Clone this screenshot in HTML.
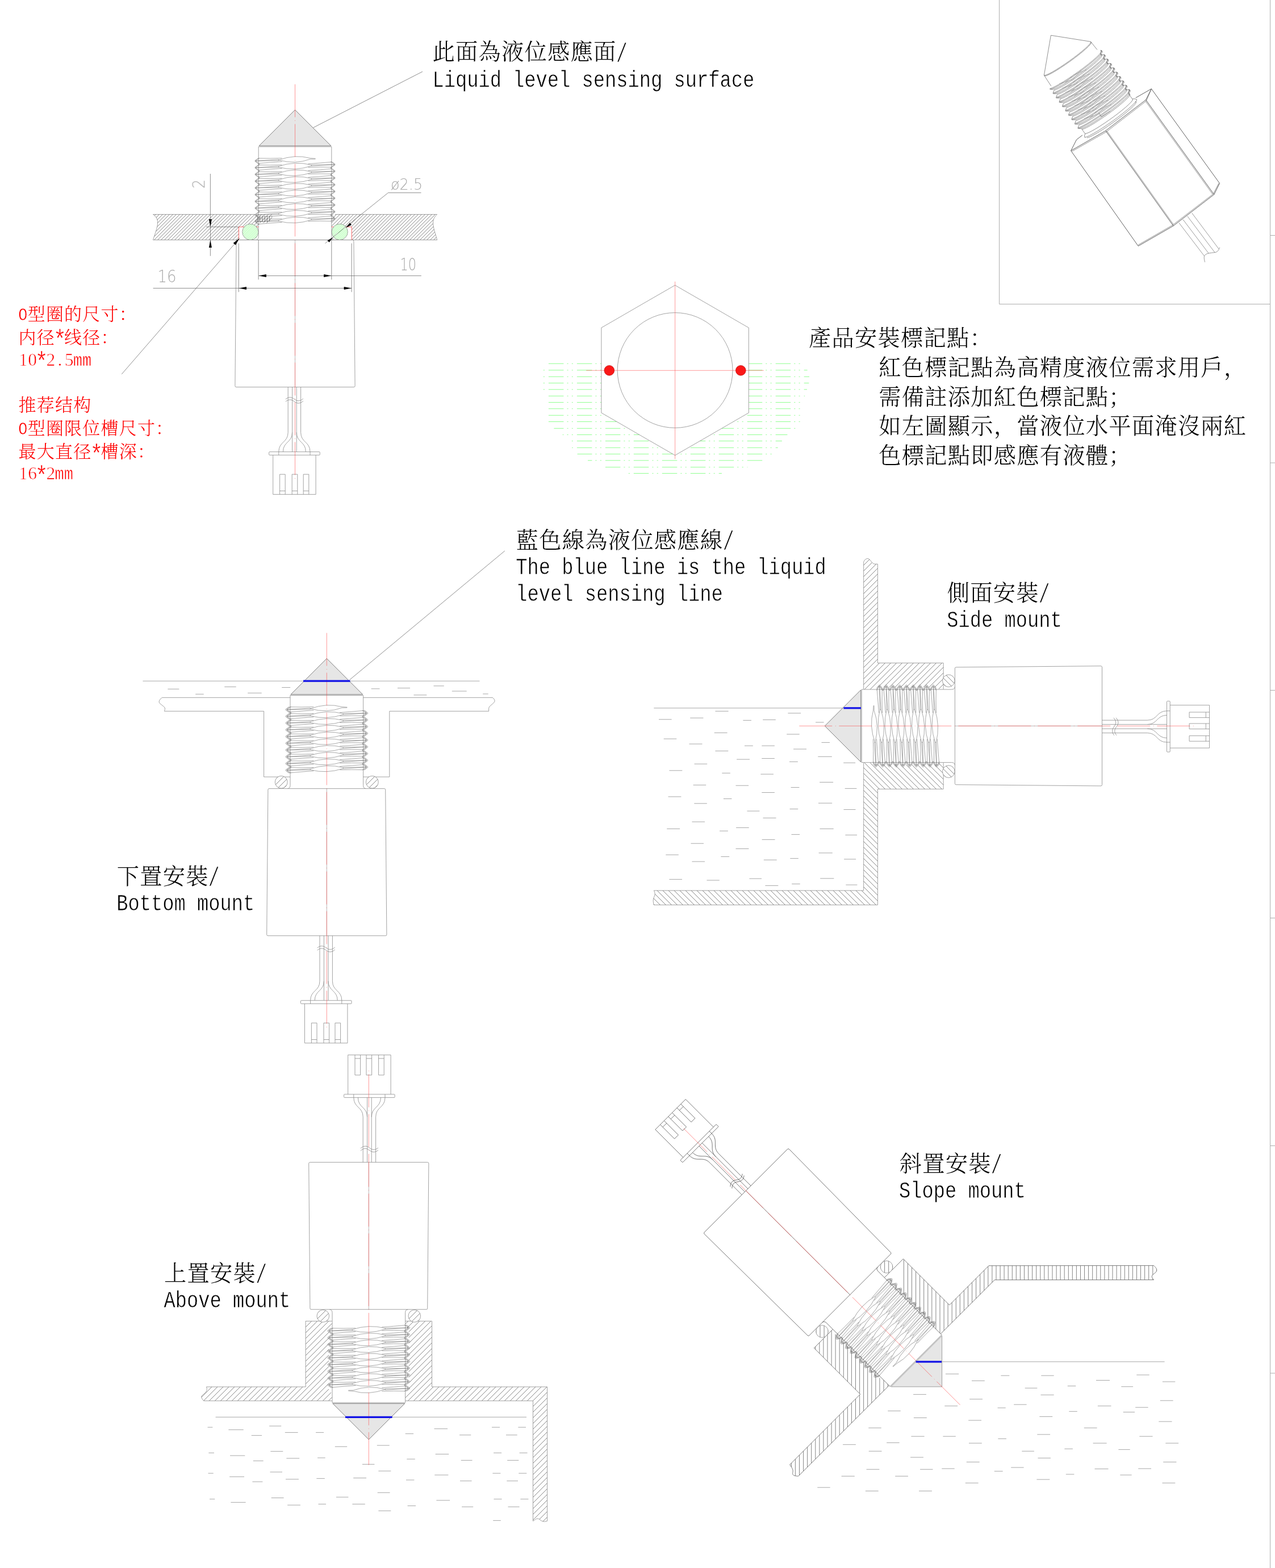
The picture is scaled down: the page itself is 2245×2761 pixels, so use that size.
<!DOCTYPE html>
<html lang="zh-CN"><head><meta charset="utf-8"><title>Liquid level sensor installation</title>
<style>
html,body{margin:0;padding:0;background:#fff}
svg{display:block}
.l{stroke:var(--lc,#8a8a8a);stroke-width:.8;fill:none}
.sm{stroke:var(--sc,#9a9a9a);stroke-width:.7;fill:none}
.k{stroke:var(--kc,#5a5a5a);stroke-width:.75;fill:#e6e6e6}
.t{stroke:var(--tc,#707070);stroke-width:.6;fill:none}
.h{stroke:#505050;stroke-width:.7;fill:none}
.gh{stroke:#58ff58;stroke-width:.75;fill:none}
.dl{stroke:#5e5e5e;stroke-width:.7;fill:none}
.sl{--lc:#5c5c5c;--kc:#8a8a8a;--tc:#6c6c6c;--sc:#4a4a4a}
.r{stroke:#ff4040;stroke-width:.55;fill:none;stroke-dasharray:58 5.5 1 5.5}
.i{stroke:#555;stroke-width:.6;fill:none}
.i2{stroke:#888;stroke-width:.5;fill:none}
.i3{stroke:#3c3c3c;stroke-width:.75;fill:none}
.bl{stroke:#1212e6;stroke-width:3.2;fill:none}
.rc{stroke:#ff4646;stroke-width:.55;fill:none}
.rg{stroke:#ff4040;stroke-width:.8;fill:none}
.w{stroke:#929292;stroke-width:.8;fill:none}
.g{stroke:#74ff74;stroke-width:.8;fill:none}
.b{stroke:#adadad;stroke-width:1;fill:none}
.d{font-family:"DejaVu Sans","Liberation Sans",sans-serif;font-weight:200;fill:#a8a8a8}
.c{font-family:"Liberation Serif","Noto Serif CJK SC",serif;font-weight:300;fill:#000}
.e{font-family:"Liberation Mono",monospace;fill:#000;stroke:#fff;stroke-width:.6;paint-order:fill stroke}
.s2{font-family:"Liberation Serif",serif;font-weight:400;stroke:#fff;stroke-width:.7;paint-order:fill stroke}
.rt{font-family:"Liberation Serif","Noto Serif CJK SC",serif;font-weight:300;fill:#f00}
.rn{font-family:"Liberation Serif",serif;fill:#f00;stroke:#fff;stroke-width:.6;paint-order:fill stroke}
.re{font-family:"Liberation Mono",monospace;fill:#f00;stroke:#fff;stroke-width:.5;paint-order:fill stroke}
</style></head><body>
<svg width="2245" height="2761" viewBox="0 0 2245 2761">
<defs><g id="sensor"><path class="k" d="M0,0L63.4,63.4H-63.4Z"/><path class="l" d="M-64.3,64.9H64.3M-64.3,64.9V84M64.3,64.9V90M-64.3,84V223Q-64.3,229 -69,229M64.3,90V223Q64.3,229 69,229"/><path class="t" d="M-64.3,85L-70.3,89.1L-70.3,90.9L-64.3,95L-64.3,96.8L-70.3,101L-70.3,102.8L-64.3,106.9L-64.3,108.7L-70.3,112.8L-70.3,114.6L-64.3,118.8L-64.3,120.6L-70.3,124.7L-70.3,126.5L-64.3,130.6L-64.3,132.4L-70.3,136.6L-70.3,138.4L-64.3,142.5L-64.3,144.3L-70.3,148.4L-70.3,150.2L-64.3,154.4L-64.3,156.2L-70.3,160.3L-70.3,162.1L-64.3,166.3L-64.3,168.1L-70.3,172.2L-70.3,174L-64.3,178.1L-64.3,179.9L-70.3,184.1L-70.3,185.9L-64.3,190L-64.3,191.8L-70.3,195.9L-70.3,197.7L-64.3,201.9M64.3,91.2L70.3,95.4L70.3,97.2L64.3,101.3L64.3,103.1L70.3,107.2L70.3,109L64.3,113.2L64.3,115L70.3,119.1L70.3,120.9L64.3,125L64.3,126.8L70.3,131L70.3,132.8L64.3,136.9L64.3,138.7L70.3,142.8L70.3,144.7L64.3,148.8L64.3,150.6L70.3,154.7L70.3,156.5L64.3,160.7L64.3,162.5L70.3,166.6L70.3,168.4L64.3,172.5L64.3,174.3L70.3,178.5L70.3,180.3L64.3,184.4L64.3,186.2L70.3,190.3L70.3,192.1L64.3,196.3M-62.8,85L-68.8,89.1L-68.8,90.9L-62.8,95L-62.8,96.8L-68.8,101L-68.8,102.8L-62.8,106.9L-62.8,108.7L-68.8,112.8L-68.8,114.6L-62.8,118.8L-62.8,120.6L-68.8,124.7L-68.8,126.5L-62.8,130.6L-62.8,132.4L-68.8,136.6L-68.8,138.4L-62.8,142.5L-62.8,144.3L-68.8,148.4L-68.8,150.2L-62.8,154.4L-62.8,156.2L-68.8,160.3L-68.8,162.1L-62.8,166.3L-62.8,168.1L-68.8,172.2L-68.8,174L-62.8,178.1L-62.8,179.9L-68.8,184.1L-68.8,185.9L-62.8,190L-62.8,191.8L-68.8,195.9L-68.8,197.7L-62.8,201.9M62.8,91.2L68.8,95.4L68.8,97.2L62.8,101.3L62.8,103.1L68.8,107.2L68.8,109L62.8,113.2L62.8,115L68.8,119.1L68.8,120.9L62.8,125L62.8,126.8L68.8,131L68.8,132.8L62.8,136.9L62.8,138.7L68.8,142.8L68.8,144.7L62.8,148.8L62.8,150.6L68.8,154.7L68.8,156.5L62.8,160.7L62.8,162.5L68.8,166.6L68.8,168.4L62.8,172.5L62.8,174.3L68.8,178.5L68.8,180.3L62.8,184.4L62.8,186.2L68.8,190.3L68.8,192.1L62.8,196.3M-29,88.4 Q0,77.8 27,85.2 L36,85.8M-29,88.4 Q0,96.6 27,86.8 L36,86.6M-69.8,90 L-29,87.4 V89.4 ZM-64.3,85.3 Q-45,85.9 -23,85.1M-64.3,94.3 Q-45,92.7 -23,91.1M-29,99.4 Q0,89.7 29,97.1M-29,101 Q0,108.5 29,98.7M-69.8,101.9 L-29,99.2 V101.2 ZM-64.3,97.1 Q-45,97.7 -23,97M-64.3,106.2 Q-45,104.6 -23,103M69.8,96.3 L29,96.9 V98.9 ZM64.3,91.9 Q45,93.5 23,95.2M64.3,101 Q45,100.4 23,101.2M-29,111.3 Q0,101.5 29,109M-29,112.9 Q0,120.3 29,110.6M-69.8,113.7 L-29,111.1 V113.1 ZM-64.3,109 Q-45,109.6 -23,108.9M-64.3,118.1 Q-45,116.5 -23,114.9M69.8,108.1 L29,108.8 V110.8 ZM64.3,103.8 Q45,105.4 23,107M64.3,112.9 Q45,112.3 23,113M-29,123.2 Q0,113.4 29,120.9M-29,124.8 Q0,132.2 29,122.5M-69.8,125.6 L-29,123 V125 ZM-64.3,120.9 Q-45,121.5 -23,120.7M-64.3,129.9 Q-45,128.3 -23,126.7M69.8,120 L29,120.7 V122.7 ZM64.3,115.7 Q45,117.3 23,118.9M64.3,124.7 Q45,124.1 23,124.9M-29,135 Q0,125.3 29,132.7M-29,136.6 Q0,144.1 29,134.3M-69.8,137.5 L-29,134.8 V136.8 ZM-64.3,132.7 Q-45,133.3 -23,132.6M-64.3,141.8 Q-45,140.2 -23,138.6M69.8,131.9 L29,132.5 V134.5 ZM64.3,127.5 Q45,129.1 23,130.8M64.3,136.6 Q45,136 23,136.8M-29,146.9 Q0,137.1 29,144.6M-29,148.5 Q0,155.9 29,146.2M-69.8,149.3 L-29,146.7 V148.7 ZM-64.3,144.6 Q-45,145.2 -23,144.5M-64.3,153.7 Q-45,152.1 -23,150.5M69.8,143.8 L29,144.4 V146.4 ZM64.3,139.4 Q45,141 23,142.6M64.3,148.5 Q45,147.9 23,148.6M-29,158.8 Q0,149 29,156.5M-29,160.4 Q0,167.8 29,158.1M-69.8,161.2 L-29,158.6 V160.6 ZM-64.3,156.5 Q-45,157.1 -23,156.3M-64.3,165.6 Q-45,164 -23,162.3M69.8,155.6 L29,156.3 V158.3 ZM64.3,151.3 Q45,152.9 23,154.5M64.3,160.4 Q45,159.8 23,160.5M-29,170.6 Q0,160.9 29,168.3M-29,172.2 Q0,179.7 29,169.9M-69.8,173.1 L-29,170.4 V172.4 ZM-64.3,168.4 Q-45,169 -23,168.2M-64.3,177.4 Q-45,175.8 -23,174.2M69.8,167.5 L29,168.1 V170.1 ZM64.3,163.2 Q45,164.8 23,166.4M64.3,172.2 Q45,171.6 23,172.4M-29,182.5 Q0,172.8 29,180.2M-29,184.1 Q0,191.6 29,181.8M-69.8,185 L-29,182.3 V184.3 ZM-64.3,180.2 Q-45,180.8 -23,180.1M-64.3,189.3 Q-45,187.7 -23,186.1M69.8,179.4 L29,180 V182 ZM64.3,175 Q45,176.6 23,178.2M64.3,184.1 Q45,183.5 23,184.2M-29,194.4 Q0,184.6 29,192.1M-29,196 Q0,203.4 29,193.7M-69.8,196.8 L-29,194.2 V196.2 ZM-64.3,192.1 Q-45,192.7 -23,191.9M-64.3,201.2 Q-45,199.6 -23,197.9M69.8,191.2 L29,191.9 V193.9 ZM64.3,186.9 Q45,188.5 23,190.1M64.3,196 Q45,195.4 23,196.1"/><path class="l" d="M-103.4,231.2Q-103.4,229.1 -101.4,229.1H101.4Q103.4,229.1 103.4,231.2L105.6,486Q105.6,488.2 103.4,488.2H-103.4Q-105.6,488.2 -105.6,486Z"/><path class="sm" d="M0,229.1V488.2"/><path class="l" d="M-12.3,488.2V568C-12.3,586 -28.7,584 -28.7,602.2M-4.9,488.2V602.2M-4.9,568C-4.9,586 -21.1,584 -21.1,602.2M2.7,488.2V602.2M2.7,568C2.7,586 18.9,584 18.9,602.2M10.1,488.2V568C10.1,586 26.5,584 26.5,602.2"/><path class="l" d="M-16.6,509.5C-11.1,505 -6.1,505.5 -1.1,509.5S8.9,513.5 14.4,508.5"/><path class="l" d="M-16.6,513.7C-11.1,509.2 -6.1,509.7 -1.1,513.7S8.9,517.7 14.4,512.7"/><rect class="l" x="-45.8" y="602.2" width="89.5" height="5.7" rx="1"/><path class="l" d="M-28.7,602.2V607.9M26.5,602.2V607.9"/><path class="l" d="M-38.8,607.9V677.2H36.6V607.9"/><path class="l" d="M-26.9,677.2V641.8H-17.3V677.2M-26.9,671H-17.3"/><path class="l" d="M-5.3,677.2V641.8H4.3V677.2M-5.3,671H4.3"/><path class="l" d="M14.7,677.2V641.8H24.3V677.2M14.7,671H24.3"/><path class="r" d="M0,-45V653.5"/></g>
<path id="thr2" class="t" stroke-width=".5" d="M-66,84.7L-72.2,89.3L-72.2,90.7L-66,95.3L-66,96.5L-72.2,101.2L-72.2,102.6L-66,107.2L-66,108.4L-72.2,113L-72.2,114.4L-66,119.1L-66,120.3L-72.2,124.9L-72.2,126.3L-66,130.9L-66,132.1L-72.2,136.8L-72.2,138.2L-66,142.8L-66,144L-72.2,148.7L-72.2,150L-66,154.7L-66,155.9L-72.2,160.5L-72.2,161.9L-66,166.6L-66,167.8L-72.2,172.4L-72.2,173.8L-66,178.4L-66,179.6L-72.2,184.3L-72.2,185.7L-66,190.3L-66,191.5L-72.2,196.1L-72.2,197.5L-66,202.2M66,90.9L72.2,95.6L72.2,97L66,101.6L66,102.8L72.2,107.4L72.2,108.8L66,113.5L66,114.7L72.2,119.3L72.2,120.7L66,125.3L66,126.5L72.2,131.2L72.2,132.6L66,137.2L66,138.4L72.2,143.1L72.2,144.4L66,149.1L66,150.3L72.2,154.9L72.2,156.3L66,161L66,162.2L72.2,166.8L72.2,168.2L66,172.8L66,174L72.2,178.7L72.2,180.1L66,184.7L66,185.9L72.2,190.5L72.2,191.9L66,196.6"/>
<clipPath id="c1"><path d="M269.5,377.5 H455.3 V399.6 H420.5 V422.5 H269.5 C274,408 279.5,396 277,387 C275.5,382 272,379.5 269.5,377.5 Z" clip-rule="evenodd"/></clipPath>
<clipPath id="c2"><path d="M583.7,377.5 H769.6 C767,380 763,384 762.5,391 C762,400 767,412 769.6,422.5 H619.3 V399.6 H583.7 Z" clip-rule="evenodd"/></clipPath>
<clipPath id="c3"><path d="M449,377.5H482L474,392.5H449Z" clip-rule="evenodd"/></clipPath>
<clipPath id="c4"><path d="M452,380H480L474,391H452Z" clip-rule="evenodd"/></clipPath>
<clipPath id="c5"><path d="M426.7,408.4a14.1,14.1 0 1,0 28.2,0a14.1,14.1 0 1,0 -28.2,0Z" clip-rule="evenodd"/></clipPath>
<clipPath id="c6"><path d="M584.1,408.4a14.1,14.1 0 1,0 28.2,0a14.1,14.1 0 1,0 -28.2,0Z" clip-rule="evenodd"/></clipPath>
<clipPath id="c7"><path d="M484.3,1377.2a10.9,10.9 0 1,0 21.8,0a10.9,10.9 0 1,0 -21.8,0Z" clip-rule="evenodd"/></clipPath>
<clipPath id="c8"><path d="M644.4,1377.2a10.9,10.9 0 1,0 21.8,0a10.9,10.9 0 1,0 -21.8,0Z" clip-rule="evenodd"/></clipPath>
<clipPath id="c9"><path d="M1520.7,989.7C1521.5,986.5 1524.5,983.6 1527.7,983.5C1532.5,983.6 1535,993 1540.1,993.2H1545.4V1167.4H1661.1V1213.7H1652.9V1210H1536.8V1213.7H1520.7Z" clip-rule="evenodd"/></clipPath>
<clipPath id="c10"><path d="M1520.7,1343.2H1536.8V1346.6H1652.9V1343.2H1661.1V1389.4H1545.4V1593.4H1151.3C1150.3,1589 1149.6,1586 1150.8,1582C1152,1578 1153.5,1576 1153.2,1573C1153,1571 1152,1569.5 1151.3,1568.1H1520.7Z" clip-rule="evenodd"/></clipPath>
<clipPath id="c11"><path d="M1659.5,1198.8a10.8,10.8 0 1,0 21.6,0a10.8,10.8 0 1,0 -21.6,0Z" clip-rule="evenodd"/></clipPath>
<clipPath id="c12"><path d="M1659.5,1358.6a10.8,10.8 0 1,0 21.6,0a10.8,10.8 0 1,0 -21.6,0Z" clip-rule="evenodd"/></clipPath>
<clipPath id="c13"><path d="M363.5,2442C364.6,2445 365,2447.5 362.5,2451C359.5,2455 354.3,2457 354.7,2460C355.2,2463 357.5,2465 358.6,2466.7H584.6V2452H579V2338H584.6V2326.3H538.2V2442Z" clip-rule="evenodd"/></clipPath>
<clipPath id="c14"><path d="M714,2326.3H760.5V2442H963.5V2678.3C960,2679.5 957,2679.5 954.5,2678.5C951,2676.8 949.5,2674 946.5,2674C943.5,2674 941.5,2676.8 938.5,2678.3V2466.7H714V2452H719.6V2338H714Z" clip-rule="evenodd"/></clipPath>
<clipPath id="c15"><path d="M558,2317.3a10.8,10.8 0 1,0 21.6,0a10.8,10.8 0 1,0 -21.6,0Z" clip-rule="evenodd"/></clipPath>
<clipPath id="c16"><path d="M719,2317.3a10.8,10.8 0 1,0 21.6,0a10.8,10.8 0 1,0 -21.6,0Z" clip-rule="evenodd"/></clipPath>
<clipPath id="c17"><path d="M1559.5,2247.6L1590.4,2216.7L1671.7,2298L1741,2228.7L2031.4,2228.4C2034.5,2231 2037,2234 2036.7,2237C2036.4,2241.5 2028.5,2243.5 2028.3,2247.5C2028.2,2250 2030,2252 2031.6,2253.6L1751.3,2253.7L1656.3,2348.7L1644.7,2337L1642.5,2330.7Z" clip-rule="evenodd"/></clipPath>
<clipPath id="c18"><path d="M1464.3,2342.8L1433.4,2373.7L1514.7,2455L1390.6,2579.1C1393.6,2583.1 1396.6,2587.1 1396.1,2591.1C1395.6,2595.1 1393.6,2599.1 1405.8,2599.2L1565.4,2439.6L1553.7,2428L1547.4,2425.8Z" clip-rule="evenodd"/></clipPath>
<clipPath id="c19"><path d="M1550.3,2230.8a10.8,10.8 0 1,0 21.6,0a10.8,10.8 0 1,0 -21.6,0Z" clip-rule="evenodd"/></clipPath>
<clipPath id="c20"><path d="M1436.7,2344.4a10.8,10.8 0 1,0 21.6,0a10.8,10.8 0 1,0 -21.6,0Z" clip-rule="evenodd"/></clipPath></defs>
<g id="view-dimension">
<g clip-path="url(#c1)"><path class="h" d="M238.6,401.4L363.9,276.1M241.6,404.4L366.9,279.1M244.6,407.4L369.9,282.1M247.6,410.4L372.9,285.1M250.6,413.4L375.9,288.1M253.6,416.4L378.9,291.1M256.6,419.4L381.9,294.1M259.6,422.4L384.9,297.1M262.6,425.4L387.9,300.1M265.6,428.4L390.9,303.1M268.6,431.4L393.9,306.1M271.6,434.4L396.9,309.1M274.6,437.4L399.9,312.1M277.6,440.4L402.9,315.1M280.6,443.4L405.9,318.1M283.6,446.4L408.9,321.1M286.6,449.4L411.9,324.1M289.6,452.4L414.9,327.1M292.6,455.4L417.9,330.1M295.6,458.4L420.9,333.1M298.6,461.4L423.9,336.1M301.6,464.4L426.9,339.1M304.6,467.4L429.9,342.1M307.6,470.4L432.9,345.1M310.6,473.4L435.9,348.1M313.6,476.4L438.9,351.1M316.6,479.4L441.9,354.1M319.6,482.4L444.9,357.1M322.6,485.4L447.9,360.1M325.6,488.4L450.9,363.1M328.6,491.4L453.9,366.1M331.6,494.4L456.9,369.1M334.6,497.4L459.9,372.1M337.6,500.4L462.9,375.1M340.6,503.4L465.9,378.1M343.6,506.4L468.9,381.1M346.6,509.4L471.9,384.1M349.6,512.4L474.9,387.1M352.6,515.4L477.9,390.1M355.6,518.4L480.9,393.1M358.6,521.4L483.9,396.1"/></g>
<g clip-path="url(#c2)"><path class="h" d="M555.1,402.9L678.9,279.1M558.1,405.9L681.9,282.1M561.1,408.9L684.9,285.1M564.1,411.9L687.9,288.1M567.1,414.9L690.9,291.1M570.1,417.9L693.9,294.1M573.1,420.9L696.9,297.1M576.1,423.9L699.9,300.1M579.1,426.9L702.9,303.1M582.1,429.9L705.9,306.1M585.1,432.9L708.9,309.1M588.1,435.9L711.9,312.1M591.1,438.9L714.9,315.1M594.1,441.9L717.9,318.1M597.1,444.9L720.9,321.1M600.1,447.9L723.9,324.1M603.1,450.9L726.9,327.1M606.1,453.9L729.9,330.1M609.1,456.9L732.9,333.1M612.1,459.9L735.9,336.1M615.1,462.9L738.9,339.1M618.1,465.9L741.9,342.1M621.1,468.9L744.9,345.1M624.1,471.9L747.9,348.1M627.1,474.9L750.9,351.1M630.1,477.9L753.9,354.1M633.1,480.9L756.9,357.1M636.1,483.9L759.9,360.1M639.1,486.9L762.9,363.1M642.1,489.9L765.9,366.1M645.1,492.9L768.9,369.1M648.1,495.9L771.9,372.1M651.1,498.9L774.9,375.1M654.1,501.9L777.9,378.1M657.1,504.9L780.9,381.1M660.1,507.9L783.9,384.1M663.1,510.9L786.9,387.1M666.1,513.9L789.9,390.1M669.1,516.9L792.9,393.1M672.1,519.9L795.9,396.1"/></g>
<g clip-path="url(#c3)"><path class="h" d="M433.6,386.4L466.4,353.6M436.6,389.4L469.4,356.6M439.6,392.4L472.4,359.6M442.6,395.4L475.4,362.6M445.6,398.4L478.4,365.6M448.6,401.4L481.4,368.6M451.6,404.4L484.4,371.6M454.6,407.4L487.4,374.6M457.6,410.4L490.4,377.6M460.6,413.4L493.4,380.6"/></g>
<g clip-path="url(#c4)"><path class="h" d="M445.2,397L445.2,373M449.4,397L449.4,373M453.6,397L453.6,373M457.8,397L457.8,373M462,397L462,373M466.2,397L466.2,373M470.4,397L470.4,373M474.6,397L474.6,373M478.8,397L478.8,373M483,397L483,373"/></g>
<path class="l" d="M269.5,377.5 H449.2 M589.8,377.5 H769.6 M269.5,422.5 H769.6"/>
<path class="l" d="M269.5,377.5 C272,379.5 275.5,382 277,387 C279.5,396 274,408 269.5,422.5 M769.6,377.5 C767,380 763,384 762.5,391 C762,400 767,412 769.6,422.5"/>
<use href="#sensor" transform="translate(519.5,193.4)"/>
<path class="rg" d="M420.5,422.5 V399.6 H455.2 M583.8,399.6 H619.3 V422.5"/>
<circle cx="440.8" cy="408.4" r="14.1" fill="#fff"/>
<g clip-path="url(#c5)"><path class="gh" d="M410.2,411.2L443.5,377.9M411.7,412.8L445.1,379.4M413.3,414.3L446.6,381M414.8,415.9L448.2,382.5M416.4,417.4L449.7,384.1M418,419L451.3,385.7M419.5,420.5L452.8,387.2M421.1,422.1L454.4,388.8M422.6,423.6L455.9,390.3M424.2,425.2L457.5,391.9M425.7,426.8L459.1,393.4M427.3,428.3L460.6,395M428.8,429.9L462.2,396.5M430.4,431.4L463.7,398.1M432,433L465.3,399.7M433.5,434.5L466.8,401.2M435.1,436.1L468.4,402.8M436.6,437.6L469.9,404.3M438.2,439.2L471.5,405.9"/></g>
<circle class="l" cx="440.8" cy="408.4" r="14.1"/>
<circle cx="598.2" cy="408.4" r="14.1" fill="#fff"/>
<g clip-path="url(#c6)"><path class="gh" d="M566.7,410.3L600,377M568.2,411.8L601.5,378.5M569.8,413.4L603.1,380.1M571.3,415L604.7,381.6M572.9,416.5L606.2,383.2M574.4,418.1L607.8,384.7M576,419.6L609.3,386.3M577.5,421.2L610.9,387.8M579.1,422.7L612.4,389.4M580.7,424.3L614,391M582.2,425.8L615.5,392.5M583.8,427.4L617.1,394.1M585.3,429L618.7,395.6M586.9,430.5L620.2,397.2M588.4,432.1L621.8,398.7M590,433.6L623.3,400.3M591.5,435.2L624.9,401.8M593.1,436.7L626.4,403.4M594.7,438.3L628,405M596.2,439.8L629.5,406.5"/></g>
<circle class="l" cx="598.2" cy="408.4" r="14.1"/>
<path class="dl" d="M370.4,306V450.7M363,399.6H420"/>
<polygon fill="#000" points="370.4,399.6 367.9,386.1 372.9,386.1"/><polygon fill="#000" points="370.4,422.5 372.9,436 367.9,436"/>

<path class="dl" d="M269.6,507.5H619.1M420.3,428.5V514.2M619.1,428.5V514.2"/>
<polygon fill="#000" points="420.5,507.5 434,505 434,510"/><polygon fill="#000" points="619.1,507.5 605.6,510 605.6,505"/>

<path class="dl" d="M455.4,485.6H741.8M455.1,423V492.3M583.8,423V492.3"/>
<polygon fill="#000" points="455.4,485.6 468.9,483.1 468.9,488.1"/><polygon fill="#000" points="583.6,485.6 570.1,488.1 570.1,483.1"/>

<path class="dl" d="M572.6,428.5L683.5,339.4H741.5"/>
<polygon fill="#000" points="586.6,418.1 579.5,426.8 576.6,423.2"/>
<polygon fill="#000" points="609,401 616.1,392.3 619,395.9"/>

<path class="dl" d="M214.3,658.8L421.6,419.6"/>
<polygon fill="#000" points="421.6,419.6 414.8,431.6 410.7,428"/>
<path class="dl" d="M551.5,224.8L744,126"/>
</g>
<g id="view-marks">
<path class="g" d="M965.9,640.3H992.4M998.5,640.3H1000.5M1006.8,640.3H1008.8M1015.9,640.3H1042.4M1048.4,640.3H1050.5M1056.8,640.3H1058.8M1065.9,640.3H1092.4M1098.4,640.3H1100.4M1106.8,640.3H1108.8M1115.8,640.3H1142.3M1148.4,640.3H1150.4M1156.7,640.3H1158.8M1165.8,640.3H1192.3M1198.4,640.3H1200.4M1206.7,640.3H1208.7M1215.8,640.3H1242.3M1248.3,640.3H1250.3M1256.7,640.3H1258.7M1265.7,640.3H1292.2M1298.3,640.3H1300.3M1306.6,640.3H1308.7M1315.7,640.3H1342.2M1348.3,640.3H1350.3M1356.6,640.3H1358.6M1365.7,640.3H1392.2M1398.2,640.3H1400.3M1406.6,640.3H1408.6M956.8,651.8H958.9M965.9,651.8H992.4M998.5,651.8H1000.5M1006.8,651.8H1008.8M1015.9,651.8H1042.4M1048.4,651.8H1050.5M1056.8,651.8H1058.8M1065.9,651.8H1092.4M1098.4,651.8H1100.4M1106.8,651.8H1108.8M1115.8,651.8H1142.3M1148.4,651.8H1150.4M1156.7,651.8H1158.8M1165.8,651.8H1192.3M1198.4,651.8H1200.4M1206.7,651.8H1208.7M1215.8,651.8H1242.3M1248.3,651.8H1250.3M1256.7,651.8H1258.7M1265.7,651.8H1292.2M1298.3,651.8H1300.3M1306.6,651.8H1308.7M1315.7,651.8H1342.2M1348.3,651.8H1350.3M1356.6,651.8H1358.6M1365.7,651.8H1392.2M1398.2,651.8H1400.3M1406.6,651.8H1408.6M1415.7,651.8H1421.6M956.8,663.3H958.9M965.9,663.3H992.4M998.5,663.3H1000.5M1006.8,663.3H1008.8M1015.9,663.3H1042.4M1048.4,663.3H1050.5M1056.8,663.3H1058.8M1065.9,663.3H1092.4M1098.4,663.3H1100.4M1106.8,663.3H1108.8M1115.8,663.3H1142.3M1148.4,663.3H1150.4M1156.7,663.3H1158.8M1165.8,663.3H1192.3M1198.4,663.3H1200.4M1206.7,663.3H1208.7M1215.8,663.3H1242.3M1248.3,663.3H1250.3M1256.7,663.3H1258.7M1265.7,663.3H1292.2M1298.3,663.3H1300.3M1306.6,663.3H1308.7M1315.7,663.3H1342.2M1348.3,663.3H1350.3M1356.6,663.3H1358.6M1365.7,663.3H1392.2M1398.2,663.3H1400.3M1406.6,663.3H1408.6M1415.7,663.3H1425M956.8,674.5H958.9M965.9,674.5H992.4M998.5,674.5H1000.5M1006.8,674.5H1008.8M1015.9,674.5H1042.4M1048.4,674.5H1050.5M1056.8,674.5H1058.8M1065.9,674.5H1092.4M1098.4,674.5H1100.4M1106.8,674.5H1108.8M1115.8,674.5H1142.3M1148.4,674.5H1150.4M1156.7,674.5H1158.8M1165.8,674.5H1192.3M1198.4,674.5H1200.4M1206.7,674.5H1208.7M1215.8,674.5H1242.3M1248.3,674.5H1250.3M1256.7,674.5H1258.7M1265.7,674.5H1292.2M1298.3,674.5H1300.3M1306.6,674.5H1308.7M1315.7,674.5H1342.2M1348.3,674.5H1350.3M1356.6,674.5H1358.6M1365.7,674.5H1392.2M1398.2,674.5H1400.3M1406.6,674.5H1408.6M1415.7,674.5H1424.4M956.8,685.8H958.9M965.9,685.8H992.4M998.5,685.8H1000.5M1006.8,685.8H1008.8M1015.9,685.8H1042.4M1048.4,685.8H1050.5M1056.8,685.8H1058.8M1065.9,685.8H1092.4M1098.4,685.8H1100.4M1106.8,685.8H1108.8M1115.8,685.8H1142.3M1148.4,685.8H1150.4M1156.7,685.8H1158.8M1165.8,685.8H1192.3M1198.4,685.8H1200.4M1206.7,685.8H1208.7M1215.8,685.8H1242.3M1248.3,685.8H1250.3M1256.7,685.8H1258.7M1265.7,685.8H1292.2M1298.3,685.8H1300.3M1306.6,685.8H1308.7M1315.7,685.8H1342.2M1348.3,685.8H1350.3M1356.6,685.8H1358.6M1365.7,685.8H1392.2M1398.2,685.8H1400.3M1406.6,685.8H1408.6M1415.7,685.8H1421M965.9,697.3H992.4M998.5,697.3H1000.5M1006.8,697.3H1008.8M1015.9,697.3H1042.4M1048.4,697.3H1050.5M1056.8,697.3H1058.8M1065.9,697.3H1092.4M1098.4,697.3H1100.4M1106.8,697.3H1108.8M1115.8,697.3H1142.3M1148.4,697.3H1150.4M1156.7,697.3H1158.8M1165.8,697.3H1192.3M1198.4,697.3H1200.4M1206.7,697.3H1208.7M1215.8,697.3H1242.3M1248.3,697.3H1250.3M1256.7,697.3H1258.7M1265.7,697.3H1292.2M1298.3,697.3H1300.3M1306.6,697.3H1308.7M1315.7,697.3H1342.2M1348.3,697.3H1350.3M1356.6,697.3H1358.6M1365.7,697.3H1392.2M1398.2,697.3H1400.3M1406.6,697.3H1408.6M1415.7,697.3H1417.2M965.9,708.5H992.4M998.5,708.5H1000.5M1006.8,708.5H1008.8M1015.9,708.5H1042.4M1048.4,708.5H1050.5M1056.8,708.5H1058.8M1065.9,708.5H1092.4M1098.4,708.5H1100.4M1106.8,708.5H1108.8M1115.8,708.5H1142.3M1148.4,708.5H1150.4M1156.7,708.5H1158.8M1165.8,708.5H1192.3M1198.4,708.5H1200.4M1206.7,708.5H1208.7M1215.8,708.5H1242.3M1248.3,708.5H1250.3M1256.7,708.5H1258.7M1265.7,708.5H1292.2M1298.3,708.5H1300.3M1306.6,708.5H1308.7M1315.7,708.5H1342.2M1348.3,708.5H1350.3M1356.6,708.5H1358.6M1365.7,708.5H1392.2M1398.2,708.5H1400.3M1406.6,708.5H1408.6M965.9,719.7H992.4M998.5,719.7H1000.5M1006.8,719.7H1008.8M1015.9,719.7H1042.4M1048.4,719.7H1050.5M1056.8,719.7H1058.8M1065.9,719.7H1092.4M1098.4,719.7H1100.4M1106.8,719.7H1108.8M1115.8,719.7H1142.3M1148.4,719.7H1150.4M1156.7,719.7H1158.8M1165.8,719.7H1192.3M1198.4,719.7H1200.4M1206.7,719.7H1208.7M1215.8,719.7H1242.3M1248.3,719.7H1250.3M1256.7,719.7H1258.7M1265.7,719.7H1292.2M1298.3,719.7H1300.3M1306.6,719.7H1308.7M1315.7,719.7H1342.2M1348.3,719.7H1350.3M1356.6,719.7H1358.6M1365.7,719.7H1392.2M1398.2,719.7H1400.3M1406.6,719.7H1408.6M965.9,731.3H992.4M998.5,731.3H1000.5M1006.8,731.3H1008.8M1015.9,731.3H1042.4M1048.4,731.3H1050.5M1056.8,731.3H1058.8M1065.9,731.3H1092.4M1098.4,731.3H1100.4M1106.8,731.3H1108.8M1115.8,731.3H1142.3M1148.4,731.3H1150.4M1156.7,731.3H1158.8M1165.8,731.3H1192.3M1198.4,731.3H1200.4M1206.7,731.3H1208.7M1215.8,731.3H1242.3M1248.3,731.3H1250.3M1256.7,731.3H1258.7M1265.7,731.3H1292.2M1298.3,731.3H1300.3M1306.6,731.3H1308.7M1315.7,731.3H1342.2M1348.3,731.3H1350.3M1356.6,731.3H1358.6M1365.7,731.3H1392.2M1398.2,731.3H1400.3M1406.6,731.3H1408.6M965.9,742.5H992.4M998.5,742.5H1000.5M1006.8,742.5H1008.8M1015.9,742.5H1042.4M1048.4,742.5H1050.5M1056.8,742.5H1058.8M1065.9,742.5H1092.4M1098.4,742.5H1100.4M1106.8,742.5H1108.8M1115.8,742.5H1142.3M1148.4,742.5H1150.4M1156.7,742.5H1158.8M1165.8,742.5H1192.3M1198.4,742.5H1200.4M1206.7,742.5H1208.7M1215.8,742.5H1242.3M1248.3,742.5H1250.3M1256.7,742.5H1258.7M1265.7,742.5H1292.2M1298.3,742.5H1300.3M1306.6,742.5H1308.7M1315.7,742.5H1342.2M1348.3,742.5H1350.3M1356.6,742.5H1358.6M1365.7,742.5H1392.2M1398.2,742.5H1400.3M1406.6,742.5H1408.6M975.4,754.3H992.4M998.5,754.3H1000.5M1006.8,754.3H1008.8M1015.9,754.3H1042.4M1048.4,754.3H1050.5M1056.8,754.3H1058.8M1065.9,754.3H1092.4M1098.4,754.3H1100.4M1106.8,754.3H1108.8M1115.8,754.3H1142.3M1148.4,754.3H1150.4M1156.7,754.3H1158.8M1165.8,754.3H1192.3M1198.4,754.3H1200.4M1206.7,754.3H1208.7M1215.8,754.3H1242.3M1248.3,754.3H1250.3M1256.7,754.3H1258.7M1265.7,754.3H1292.2M1298.3,754.3H1300.3M1306.6,754.3H1308.7M1315.7,754.3H1342.2M1348.3,754.3H1350.3M1356.6,754.3H1358.6M1365.7,754.3H1392.2M1398.2,754.3H1400.3M990.7,765.5H992.4M998.5,765.5H1000.5M1006.8,765.5H1008.8M1015.9,765.5H1042.4M1048.4,765.5H1050.5M1056.8,765.5H1058.8M1065.9,765.5H1092.4M1098.4,765.5H1100.4M1106.8,765.5H1108.8M1115.8,765.5H1142.3M1148.4,765.5H1150.4M1156.7,765.5H1158.8M1165.8,765.5H1192.3M1198.4,765.5H1200.4M1206.7,765.5H1208.7M1215.8,765.5H1242.3M1248.3,765.5H1250.3M1256.7,765.5H1258.7M1265.7,765.5H1292.2M1298.3,765.5H1300.3M1306.6,765.5H1308.7M1315.7,765.5H1342.2M1348.3,765.5H1350.3M1356.6,765.5H1358.6M1365.7,765.5H1386.4M1006.8,776.5H1008.8M1015.9,776.5H1042.4M1048.4,776.5H1050.5M1056.8,776.5H1058.8M1065.9,776.5H1092.4M1098.4,776.5H1100.4M1106.8,776.5H1108.8M1115.8,776.5H1142.3M1148.4,776.5H1150.4M1156.7,776.5H1158.8M1165.8,776.5H1192.3M1198.4,776.5H1200.4M1206.7,776.5H1208.7M1215.8,776.5H1242.3M1248.3,776.5H1250.3M1256.7,776.5H1258.7M1265.7,776.5H1292.2M1298.3,776.5H1300.3M1306.6,776.5H1308.7M1315.7,776.5H1342.2M1348.3,776.5H1350.3M1356.6,776.5H1358.6M1365.7,776.5H1376.9M1007.1,788.3H1008.8M1015.9,788.3H1042.4M1048.4,788.3H1050.5M1056.8,788.3H1058.8M1065.9,788.3H1092.4M1098.4,788.3H1100.4M1106.8,788.3H1108.8M1115.8,788.3H1142.3M1148.4,788.3H1150.4M1156.7,788.3H1158.8M1165.8,788.3H1192.3M1198.4,788.3H1200.4M1206.7,788.3H1208.7M1215.8,788.3H1242.3M1248.3,788.3H1250.3M1256.7,788.3H1258.7M1265.7,788.3H1292.2M1298.3,788.3H1300.3M1306.6,788.3H1308.7M1315.7,788.3H1342.2M1348.3,788.3H1350.3M1356.6,788.3H1358.6M1365.7,788.3H1369.7M1016.6,799.5H1042.4M1048.4,799.5H1050.5M1056.8,799.5H1058.8M1065.9,799.5H1092.4M1098.4,799.5H1100.4M1106.8,799.5H1108.8M1115.8,799.5H1142.3M1148.4,799.5H1150.4M1156.7,799.5H1158.8M1165.8,799.5H1192.3M1198.4,799.5H1200.4M1206.7,799.5H1208.7M1215.8,799.5H1242.3M1248.3,799.5H1250.3M1256.7,799.5H1258.7M1265.7,799.5H1292.2M1298.3,799.5H1300.3M1306.6,799.5H1308.7M1315.7,799.5H1342.2M1348.3,799.5H1350.3M1356.6,799.5H1358.6M1035,810.8H1042.4M1048.4,810.8H1050.5M1056.8,810.8H1058.8M1065.9,810.8H1092.4M1098.4,810.8H1100.4M1106.8,810.8H1108.8M1115.8,810.8H1142.3M1148.4,810.8H1150.4M1156.7,810.8H1158.8M1165.8,810.8H1192.3M1198.4,810.8H1200.4M1206.7,810.8H1208.7M1215.8,810.8H1242.3M1248.3,810.8H1250.3M1256.7,810.8H1258.7M1265.7,810.8H1292.2M1298.3,810.8H1300.3M1306.6,810.8H1308.7M1315.7,810.8H1342.2M1065.9,822.6H1092.4M1098.4,822.6H1100.4M1106.8,822.6H1108.8M1115.8,822.6H1142.3M1148.4,822.6H1150.4M1156.7,822.6H1158.8M1165.8,822.6H1192.3M1198.4,822.6H1200.4M1206.7,822.6H1208.7M1215.8,822.6H1242.3M1248.3,822.6H1250.3M1256.7,822.6H1258.7M1265.7,822.6H1292.2M1298.3,822.6H1300.3M1306.6,822.6H1308.7M1315.7,822.6H1316.4M1106.8,833.5H1108.8M1115.8,833.5H1142.3M1148.4,833.5H1150.4M1156.7,833.5H1158.8M1165.8,833.5H1192.3M1198.4,833.5H1200.4M1206.7,833.5H1208.7M1215.8,833.5H1242.3M1248.3,833.5H1250.3M1256.7,833.5H1258.7M1265.7,833.5H1270.9"/>
<polygon points="1188.6,502.2 1318.3,577.1 1318.3,726.9 1188.6,801.8 1058.9,726.9 1058.9,577.1" fill="#fff" stroke="none"/>
<polygon class="l" points="1188.6,502.2 1318.3,577.1 1318.3,726.9 1188.6,801.8 1058.9,726.9 1058.9,577.1"/>
<circle class="l" cx="1188.6" cy="652" r="101.4"/>
<path class="rc" d="M1032.2,652.3H1344.7M1188.6,495.8V808.3"/>
<circle cx="1072.8" cy="652.3" r="8.9" fill="#fa1818" stroke="#b40000" stroke-width=".6"/>
<circle cx="1304.3" cy="652.3" r="8.9" fill="#fa1818" stroke="#b40000" stroke-width=".6"/>
</g>
<g id="view-iso">
<path class="b" d="M1759.5,0V535.5H2236.5M2236.5,0V2761"/>
<path class="b" d="M2236.5,414.5H2245M2236.5,815H2245M2236.5,1215.5H2245M2236.5,1616.5H2245M2236.5,2017.5H2245M2236.5,2418H2245"/>
<g transform="matrix(0.814 -0.581 0.581 0.814 1850.4 62.2)">
<path class="i" d="M-50.6,50.2L0,0L50.6,49.8M-50.6,50A50.6,5.6 0 0,0 50.6,50M-50.6,51.3A50.6,5.6 0 0,0 50.6,51.3M-50.6,50.2L-51.6,73M50.6,49.8L51.6,68M-55.7,75.4A55.7,6.1 0 0,0 55.7,72.4M-55.7,77A55.7,6.1 0 0,0 55.7,74M-51.6,79.9A51.6,5.7 0 0,0 51.6,77.1M-51.6,81.9A51.6,5.7 0 0,0 51.6,79.1M-55.7,75.4Q-57.4,76.2 -55.7,77L-51.6,79.9M55.7,72.4Q57.4,73.2 55.7,74L51.6,77.1M-55.7,84.8A55.7,6.1 0 0,0 55.7,81.8M-55.7,86.4A55.7,6.1 0 0,0 55.7,83.4M-51.6,89.3A51.6,5.7 0 0,0 51.6,86.5M-51.6,91.3A51.6,5.7 0 0,0 51.6,88.5M-55.7,84.8Q-57.4,85.6 -55.7,86.4L-51.6,89.3M55.7,81.8Q57.4,82.6 55.7,83.4L51.6,86.5M-51.6,81.9L-55.7,84.8M51.6,79.1L55.7,81.8M-55.7,94.2A55.7,6.1 0 0,0 55.7,91.2M-55.7,95.8A55.7,6.1 0 0,0 55.7,92.8M-51.6,98.7A51.6,5.7 0 0,0 51.6,95.9M-51.6,100.7A51.6,5.7 0 0,0 51.6,97.9M-55.7,94.2Q-57.4,95 -55.7,95.8L-51.6,98.7M55.7,91.2Q57.4,92 55.7,92.8L51.6,95.9M-51.6,91.3L-55.7,94.2M51.6,88.5L55.7,91.2M-55.7,103.7A55.7,6.1 0 0,0 55.7,100.7M-55.7,105.3A55.7,6.1 0 0,0 55.7,102.3M-51.6,108.2A51.6,5.7 0 0,0 51.6,105.4M-51.6,110.2A51.6,5.7 0 0,0 51.6,107.4M-55.7,103.7Q-57.4,104.5 -55.7,105.3L-51.6,108.2M55.7,100.7Q57.4,101.5 55.7,102.3L51.6,105.4M-51.6,100.7L-55.7,103.7M51.6,97.9L55.7,100.7M-55.7,113.1A55.7,6.1 0 0,0 55.7,110.1M-55.7,114.7A55.7,6.1 0 0,0 55.7,111.7M-51.6,117.6A51.6,5.7 0 0,0 51.6,114.8M-51.6,119.6A51.6,5.7 0 0,0 51.6,116.8M-55.7,113.1Q-57.4,113.9 -55.7,114.7L-51.6,117.6M55.7,110.1Q57.4,110.9 55.7,111.7L51.6,114.8M-51.6,110.2L-55.7,113.1M51.6,107.4L55.7,110.1M-55.7,122.5A55.7,6.1 0 0,0 55.7,119.5M-55.7,124.1A55.7,6.1 0 0,0 55.7,121.1M-51.6,127A51.6,5.7 0 0,0 51.6,124.2M-51.6,129A51.6,5.7 0 0,0 51.6,126.2M-55.7,122.5Q-57.4,123.3 -55.7,124.1L-51.6,127M55.7,119.5Q57.4,120.3 55.7,121.1L51.6,124.2M-51.6,119.6L-55.7,122.5M51.6,116.8L55.7,119.5M-55.7,131.9A55.7,6.1 0 0,0 55.7,128.9M-55.7,133.5A55.7,6.1 0 0,0 55.7,130.5M-51.6,136.4A51.6,5.7 0 0,0 51.6,133.6M-51.6,138.4A51.6,5.7 0 0,0 51.6,135.6M-55.7,131.9Q-57.4,132.7 -55.7,133.5L-51.6,136.4M55.7,128.9Q57.4,129.7 55.7,130.5L51.6,133.6M-51.6,129L-55.7,131.9M51.6,126.2L55.7,128.9M-55.7,141.3A55.7,6.1 0 0,0 55.7,138.3M-55.7,142.9A55.7,6.1 0 0,0 55.7,139.9M-51.6,145.8A51.6,5.7 0 0,0 51.6,143M-51.6,147.8A51.6,5.7 0 0,0 51.6,145M-55.7,141.3Q-57.4,142.1 -55.7,142.9L-51.6,145.8M55.7,138.3Q57.4,139.1 55.7,139.9L51.6,143M-51.6,138.4L-55.7,141.3M51.6,135.6L55.7,138.3M-55.7,150.8A55.7,6.1 0 0,0 55.7,147.8M-55.7,152.4A55.7,6.1 0 0,0 55.7,149.4M-51.6,155.3A51.6,5.7 0 0,0 51.6,152.5M-51.6,157.3A51.6,5.7 0 0,0 51.6,154.5M-55.7,150.8Q-57.4,151.6 -55.7,152.4L-51.6,155.3M55.7,147.8Q57.4,148.6 55.7,149.4L51.6,152.5M-51.6,147.8L-55.7,150.8M51.6,145L55.7,147.8M-55.7,160.2A55.7,6.1 0 0,0 55.7,157.2M-55.7,161.8A55.7,6.1 0 0,0 55.7,158.8M-51.6,164.7A51.6,5.7 0 0,0 51.6,161.9M-51.6,166.7A51.6,5.7 0 0,0 51.6,163.9M-55.7,160.2Q-57.4,161 -55.7,161.8L-51.6,164.7M55.7,157.2Q57.4,158 55.7,158.8L51.6,161.9M-51.6,157.3L-55.7,160.2M51.6,154.5L55.7,157.2M-51.6,165.4V176M51.6,164.2V174.5M-51.6,175.9A51.6,5.7 0 0,0 51.6,174.5M-51.6,176Q-55,178 -56,181M51.6,174.5Q55,175.5 56,178M-56,181A56,6.2 0 0,0 56,178.2M-53,183.8A53,5.8 0 0,0 53,181.4"/>
<path class="i2" d="M-38,77.8L-14,85.8L8,81M-30,83.1L-8,79.9L16,85.6M-38,87.2L-14,95.2L8,90.4M-30,92.5L-8,89.3L16,95M-38,96.6L-14,104.6L8,99.8M-30,101.9L-8,98.7L16,104.4M-38,106.1L-14,114.1L8,109.3M-30,111.4L-8,108.2L16,113.9M-38,115.5L-14,123.5L8,118.7M-30,120.8L-8,117.6L16,123.3M-38,124.9L-14,132.9L8,128.1M-30,130.2L-8,127L16,132.7M-38,134.3L-14,142.3L8,137.5M-30,139.6L-8,136.4L16,142.1M-38,143.7L-14,151.7L8,146.9M-30,149L-8,145.8L16,151.5M-38,153.2L-14,161.2L8,156.4M-30,158.5L-8,155.3L16,161"/>
<path class="i3" d="M-57,175.3L-70.1,175.8L-89.3,185.9L-19.2,192.8L70.1,189.6L89.3,179.5M89.3,179.5L57.5,176.3M89.3,179.5L90.4,384.7M70.1,189.6L71,395M-19.2,192.8L-19.5,398.3M-89.3,185.9L-90.4,391.3M-90.4,391.3L-19.5,398.3L71,395L90.4,384.7"/>
<path class="i" d="M-88.3,187.9L-19.2,195L69.6,191.6L87.8,180.5M-17.6,194.8L-17.9,396.3M68.3,191.6L69.2,393M-89.4,389.7L-19.5,396.5L70.5,393.4L89.4,383.7"/>
</g>
<path class="i" d="M1935.3,199.5L1939.1,205.5L1954.8,195.8"/>
<path class="i" d="M2075.9,392.3L2120.4,450.7M2083,386.5L2128,445.9M2090.7,380.6L2139,444.5M2098.7,375.1L2146,438.3M2147.6,435.6C2146,441 2143,444.2 2139,444.6C2135,445 2131.5,445.2 2128,446C2124,447 2121.6,448.5 2120.4,451C2119.6,455 2121,458.5 2121.5,461.6"/>
</g>
<g id="view-bottom">
<path class="w" d="M251.5,1199.2H844.5"/>
<path class="w" d="M295.4,1213.3H315.4M344.2,1222.3H358.7M395.3,1209.4H415.7M436.2,1220.3H460.7M496.2,1210.5H511.2M653.6,1212.8H668.5M700,1211.6H722M728.5,1223.8H751.3M763.5,1207.8H781.8M795.8,1217H821.7M850.2,1221.9H859.7"/>
<path class="l" d="M511,1228.3H285.4C282.5,1230.5 280.3,1233 280.1,1235.8C280,1240 290.8,1243.5 290.5,1248C290.4,1250 289.6,1251.3 289.4,1252.3H464.6V1368H511M639.6,1228.3H867.3C869.5,1230.2 871,1232 871.1,1234.2C871,1238.5 860.6,1242.5 860.6,1247.6C860.6,1249.5 860.6,1251 860.6,1252.3H685.8V1368H639.6"/>
<use href="#sensor" transform="translate(575.3,1159.5)"/>
<use href="#thr2" transform="translate(575.3,1159.5)"/>
<circle cx="495.2" cy="1377.2" r="10.9" fill="#fff"/><g clip-path="url(#c7)"><path class="h" d="M474.2,1382.8L500.8,1356.2M479.2,1387.8L505.8,1361.2M484.2,1392.8L510.8,1366.2M489.2,1397.8L515.8,1371.2"/></g><circle class="l" cx="495.2" cy="1377.2" r="10.9"/><circle cx="655.3" cy="1377.2" r="10.9" fill="#fff"/><g clip-path="url(#c8)"><path class="h" d="M634.2,1382.8L660.9,1356.1M639.2,1387.8L665.9,1361.1M644.2,1392.8L670.9,1366.1M649.2,1397.8L675.9,1371.1"/></g><circle class="l" cx="655.3" cy="1377.2" r="10.9"/>
<path class="bl" d="M534,1199.2H616.4"/>
<path class="dl" d="M615.6,1197.1L888.8,970"/>
</g>
<g id="view-side">
<g clip-path="url(#c9)"><path class="h" d="M1402.6,1103.4L1594.9,911.1M1407.6,1108.4L1599.9,916.1M1412.6,1113.4L1604.9,921.1M1417.6,1118.4L1609.9,926.1M1422.6,1123.4L1614.9,931.1M1427.6,1128.4L1619.9,936.1M1432.6,1133.4L1624.9,941.1M1437.6,1138.4L1629.9,946.1M1442.6,1143.4L1634.9,951.1M1447.6,1148.4L1639.9,956.1M1452.6,1153.4L1644.9,961.1M1457.6,1158.4L1649.9,966.1M1462.6,1163.4L1654.9,971.1M1467.6,1168.4L1659.9,976.1M1472.6,1173.4L1664.9,981.1M1477.6,1178.4L1669.9,986.1M1482.6,1183.4L1674.9,991.1M1487.6,1188.4L1679.9,996.1M1492.6,1193.4L1684.9,1001.1M1497.6,1198.4L1689.9,1006.1M1502.6,1203.4L1694.9,1011.1M1507.6,1208.4L1699.9,1016.1M1512.6,1213.4L1704.9,1021.1M1517.6,1218.4L1709.9,1026.1M1522.6,1223.4L1714.9,1031.1M1527.6,1228.4L1719.9,1036.1M1532.6,1233.4L1724.9,1041.1M1537.6,1238.4L1729.9,1046.1M1542.6,1243.4L1734.9,1051.1M1547.6,1248.4L1739.9,1056.1M1552.6,1253.4L1744.9,1061.1M1557.6,1258.4L1749.9,1066.1M1562.6,1263.4L1754.9,1071.1M1567.6,1268.4L1759.9,1076.1M1572.6,1273.4L1764.9,1081.1M1577.6,1278.4L1769.9,1086.1M1582.6,1283.4L1774.9,1091.1M1587.6,1288.4L1779.9,1096.1"/></g>
<g clip-path="url(#c10)"><path class="h" d="M1402.1,1083.1L1790.4,1471.4M1397.1,1088.1L1785.4,1476.4M1392.1,1093.1L1780.4,1481.4M1387.1,1098.1L1775.4,1486.4M1382.1,1103.1L1770.4,1491.4M1377.1,1108.1L1765.4,1496.4M1372.1,1113.1L1760.4,1501.4M1367.1,1118.1L1755.4,1506.4M1362.1,1123.1L1750.4,1511.4M1357.1,1128.1L1745.4,1516.4M1352.1,1133.1L1740.4,1521.4M1347.1,1138.1L1735.4,1526.4M1342.1,1143.1L1730.4,1531.4M1337.1,1148.1L1725.4,1536.4M1332.1,1153.1L1720.4,1541.4M1327.1,1158.1L1715.4,1546.4M1322.1,1163.1L1710.4,1551.4M1317.1,1168.1L1705.4,1556.4M1312.1,1173.1L1700.4,1561.4M1307.1,1178.1L1695.4,1566.4M1302.1,1183.1L1690.4,1571.4M1297.1,1188.1L1685.4,1576.4M1292.1,1193.1L1680.4,1581.4M1287.1,1198.1L1675.4,1586.4M1282.1,1203.1L1670.4,1591.4M1277.1,1208.1L1665.4,1596.4M1272.1,1213.1L1660.4,1601.4M1267.1,1218.1L1655.4,1606.4M1262.1,1223.1L1650.4,1611.4M1257.1,1228.1L1645.4,1616.4M1252.1,1233.1L1640.4,1621.4M1247.1,1238.1L1635.4,1626.4M1242.1,1243.1L1630.4,1631.4M1237.1,1248.1L1625.4,1636.4M1232.1,1253.1L1620.4,1641.4M1227.1,1258.1L1615.4,1646.4M1222.1,1263.1L1610.4,1651.4M1217.1,1268.1L1605.4,1656.4M1212.1,1273.1L1600.4,1661.4M1207.1,1278.1L1595.4,1666.4M1202.1,1283.1L1590.4,1671.4M1197.1,1288.1L1585.4,1676.4M1192.1,1293.1L1580.4,1681.4M1187.1,1298.1L1575.4,1686.4M1182.1,1303.1L1570.4,1691.4M1177.1,1308.1L1565.4,1696.4M1172.1,1313.1L1560.4,1701.4M1167.1,1318.1L1555.4,1706.4M1162.1,1323.1L1550.4,1711.4M1157.1,1328.1L1545.4,1716.4M1152.1,1333.1L1540.4,1721.4M1147.1,1338.1L1535.4,1726.4M1142.1,1343.1L1530.4,1731.4M1137.1,1348.1L1525.4,1736.4M1132.1,1353.1L1520.4,1741.4M1127.1,1358.1L1515.4,1746.4M1122.1,1363.1L1510.4,1751.4M1117.1,1368.1L1505.4,1756.4M1112.1,1373.1L1500.4,1761.4M1107.1,1378.1L1495.4,1766.4M1102.1,1383.1L1490.4,1771.4M1097.1,1388.1L1485.4,1776.4M1092.1,1393.1L1480.4,1781.4M1087.1,1398.1L1475.4,1786.4M1082.1,1403.1L1470.4,1791.4M1077.1,1408.1L1465.4,1796.4M1072.1,1413.1L1460.4,1801.4M1067.1,1418.1L1455.4,1806.4M1062.1,1423.1L1450.4,1811.4M1057.1,1428.1L1445.4,1816.4M1052.1,1433.1L1440.4,1821.4M1047.1,1438.1L1435.4,1826.4M1042.1,1443.1L1430.4,1831.4M1037.1,1448.1L1425.4,1836.4M1032.1,1453.1L1420.4,1841.4M1027.1,1458.1L1415.4,1846.4M1022.1,1463.1L1410.4,1851.4"/></g>
<path class="l" d="M1520.7,1213.7V989.7C1521.5,986.5 1524.5,983.6 1527.7,983.5C1532.5,983.6 1535,993 1540.1,993.2H1545.4V1167.4H1661.1V1213.7"/>
<path class="l" d="M1661.1,1343.2V1389.4H1545.4V1593.4H1151.3C1150.3,1589 1149.6,1586 1150.8,1582C1152,1578 1153.5,1576 1153.2,1573C1153,1571 1152,1569.5 1151.3,1568.1H1520.7V1343.2"/>
<path class="w" d="M1151.3,1246.8H1484"/>
<path class="w" d="M1259.4,1252.3H1282.6M1387.4,1255.8H1410M1215.2,1264.2H1238.4M1160,1266.8H1182.6M1343.2,1267.4H1365.8M1308.4,1268.4H1322.9M1436.1,1271.9H1450.6M1257.7,1290.3H1280.6M1385.2,1292.9H1407.7M1168.7,1301H1191.3M1446.5,1307.4H1461M1213.5,1310H1236.5M1311,1313.2H1325.8M1341.3,1313.2H1363.9M1397.1,1319H1420M1259.4,1322.3H1282.3M1440.3,1332.3H1464.8M1341.3,1335.5H1363.9M1297.1,1337.1H1320M1390,1341.3H1404.8M1485.2,1343.2H1506.1M1222.6,1345.2H1245.2M1178.4,1356.8H1201.3M1271.3,1361.3H1285.8M1339.4,1363.2H1361.9M1443.2,1377.4H1467.1M1220.6,1382.3H1243.2M1295.5,1383.2H1318.1M1392.6,1386.5H1407.4M1487.7,1388.4H1508.4M1341.3,1395.5H1363.9M1176.5,1402.9H1199.4M1273.9,1406.5H1288.4M1441,1414.2H1465.2M1222.3,1414.8H1244.8M1390.6,1424.5H1405.2M1485.5,1425.5H1506.5M1315.5,1428.1H1337.4M1343.5,1440.3H1366.5M1218.4,1447.1H1241M1296.1,1457.4H1318.7M1174.2,1459.4H1197.1M1443.5,1459.4H1467.7M1267.1,1463.2H1281.9M1393.5,1469.4H1408.1M1488.4,1470.3H1509M1341.6,1478.4H1364.5M1216.5,1485.2H1239M1295.5,1494.5H1318.4M1441.6,1501.9H1465.8M1172.3,1505.2H1194.8M1269.4,1508.4H1284.2M1391.3,1511.6H1405.8M1486.1,1512.9H1507.1M1344.8,1514.2H1367.7M1218.4,1517.1H1241M1444.2,1546.8H1468.4M1319.4,1547.1H1341M1178.4,1548.4H1201M1244.5,1550H1266.8M1394.2,1556.5H1408.7M1489.4,1558.1H1509.4M1347.4,1559.4H1370.3"/>
<use href="#sensor" transform="translate(1452.3,1278.3) rotate(-90)"/>
<use href="#thr2" transform="translate(1452.3,1278.3) rotate(-90)"/>
<circle cx="1670.3" cy="1198.8" r="10.8" fill="#fff"/><g clip-path="url(#c11)"><path class="h" d="M1664.8,1177.8L1691.3,1204.3M1659.8,1182.8L1686.3,1209.3M1654.8,1187.8L1681.3,1214.3M1649.8,1192.8L1676.3,1219.3"/></g><circle class="l" cx="1670.3" cy="1198.8" r="10.8"/><circle cx="1670.3" cy="1358.6" r="10.8" fill="#fff"/><g clip-path="url(#c12)"><path class="h" d="M1664.7,1337.7L1691.2,1364.2M1659.7,1342.7L1686.2,1369.2M1654.7,1347.7L1681.2,1374.2M1649.7,1352.7L1676.2,1379.2"/></g><circle class="l" cx="1670.3" cy="1358.6" r="10.8"/>
<path class="bl" d="M1485.4,1246.8H1516"/>
</g>
<g id="view-above">
<g clip-path="url(#c13)"><path class="h" d="M283.1,2401.9L474.9,2210.1M288.1,2406.9L479.9,2215.1M293.1,2411.9L484.9,2220.1M298.1,2416.9L489.9,2225.1M303.1,2421.9L494.9,2230.1M308.1,2426.9L499.9,2235.1M313.1,2431.9L504.9,2240.1M318.1,2436.9L509.9,2245.1M323.1,2441.9L514.9,2250.1M328.1,2446.9L519.9,2255.1M333.1,2451.9L524.9,2260.1M338.1,2456.9L529.9,2265.1M343.1,2461.9L534.9,2270.1M348.1,2466.9L539.9,2275.1M353.1,2471.9L544.9,2280.1M358.1,2476.9L549.9,2285.1M363.1,2481.9L554.9,2290.1M368.1,2486.9L559.9,2295.1M373.1,2491.9L564.9,2300.1M378.1,2496.9L569.9,2305.1M383.1,2501.9L574.9,2310.1M388.1,2506.9L579.9,2315.1M393.1,2511.9L584.9,2320.1M398.1,2516.9L589.9,2325.1M403.1,2521.9L594.9,2330.1M408.1,2526.9L599.9,2335.1M413.1,2531.9L604.9,2340.1M418.1,2536.9L609.9,2345.1M423.1,2541.9L614.9,2350.1M428.1,2546.9L619.9,2355.1M433.1,2551.9L624.9,2360.1M438.1,2556.9L629.9,2365.1M443.1,2561.9L634.9,2370.1M448.1,2566.9L639.9,2375.1M453.1,2571.9L644.9,2380.1M458.1,2576.9L649.9,2385.1M463.1,2581.9L654.9,2390.1"/></g>
<g clip-path="url(#c14)"><path class="h" d="M536.6,2508.4L844.4,2200.6M541.6,2513.4L849.4,2205.6M546.6,2518.4L854.4,2210.6M551.6,2523.4L859.4,2215.6M556.6,2528.4L864.4,2220.6M561.6,2533.4L869.4,2225.6M566.6,2538.4L874.4,2230.6M571.6,2543.4L879.4,2235.6M576.6,2548.4L884.4,2240.6M581.6,2553.4L889.4,2245.6M586.6,2558.4L894.4,2250.6M591.6,2563.4L899.4,2255.6M596.6,2568.4L904.4,2260.6M601.6,2573.4L909.4,2265.6M606.6,2578.4L914.4,2270.6M611.6,2583.4L919.4,2275.6M616.6,2588.4L924.4,2280.6M621.6,2593.4L929.4,2285.6M626.6,2598.4L934.4,2290.6M631.6,2603.4L939.4,2295.6M636.6,2608.4L944.4,2300.6M641.6,2613.4L949.4,2305.6M646.6,2618.4L954.4,2310.6M651.6,2623.4L959.4,2315.6M656.6,2628.4L964.4,2320.6M661.6,2633.4L969.4,2325.6M666.6,2638.4L974.4,2330.6M671.6,2643.4L979.4,2335.6M676.6,2648.4L984.4,2340.6M681.6,2653.4L989.4,2345.6M686.6,2658.4L994.4,2350.6M691.6,2663.4L999.4,2355.6M696.6,2668.4L1004.4,2360.6M701.6,2673.4L1009.4,2365.6M706.6,2678.4L1014.4,2370.6M711.6,2683.4L1019.4,2375.6M716.6,2688.4L1024.4,2380.6M721.6,2693.4L1029.4,2385.6M726.6,2698.4L1034.4,2390.6M731.6,2703.4L1039.4,2395.6M736.6,2708.4L1044.4,2400.6M741.6,2713.4L1049.4,2405.6M746.6,2718.4L1054.4,2410.6M751.6,2723.4L1059.4,2415.6M756.6,2728.4L1064.4,2420.6M761.6,2733.4L1069.4,2425.6M766.6,2738.4L1074.4,2430.6M771.6,2743.4L1079.4,2435.6M776.6,2748.4L1084.4,2440.6M781.6,2753.4L1089.4,2445.6M786.6,2758.4L1094.4,2450.6M791.6,2763.4L1099.4,2455.6M796.6,2768.4L1104.4,2460.6M801.6,2773.4L1109.4,2465.6M806.6,2778.4L1114.4,2470.6M811.6,2783.4L1119.4,2475.6M816.6,2788.4L1124.4,2480.6M821.6,2793.4L1129.4,2485.6M826.6,2798.4L1134.4,2490.6M831.6,2803.4L1139.4,2495.6M836.6,2808.4L1144.4,2500.6"/></g>
<path class="l" d="M584.6,2466.7H358.6C357.5,2465 355.2,2463 354.7,2460C354.3,2457 359.5,2455 362.5,2451C365,2447.5 364.6,2445 363.5,2442H538.2V2326.3H584.6"/>
<path class="l" d="M714,2326.3H760.5V2442H963.5V2678.3C960,2679.5 957,2679.5 954.5,2678.5C951,2676.8 949.5,2674 946.5,2674C943.5,2674 941.5,2676.8 938.5,2678.3V2466.7H714"/>
<path class="w" d="M379.6,2495.3H927"/>
<path class="w" d="M474.2,2511H495.2M365.6,2513.2H374.4M866,2513.2H880M912.4,2513.2H926M764.5,2515.8H788.1M402.4,2517.6H428.7M501.8,2522.4H524.6M556.1,2522.4H570.1M713.7,2524.6H728.1M809.1,2526.8H829.3M891,2526.8H910.7M442.7,2527.6H461.1M663.8,2545.1H685.7M589.8,2547.3H611.2M476.4,2555.6H498.3M367.4,2558.3H377M869.1,2558.3H883.1M914.6,2558.3H928.6M766.7,2560.5H790.3M405,2563.1H431.3M559.1,2567H572.7M504.4,2567.9H527.2M716.3,2569.2H730.8M811.8,2571.4H831.5M893.2,2571.4H913.3M445.8,2572.3H463.7M638,2578.4H659.4M666.4,2590.2H688.3M475.5,2592H497M366.5,2594.2H375.7M867.4,2594.2H881.4M913.3,2594.2H927.3M765.3,2597.2H789.4M404.2,2600.3H430M622.2,2602.5H645M557.4,2603.4H571.8M503.1,2604.7H525.9M715,2606H729.4M810,2607.7H830.6M892.3,2607.7H912M444.4,2609.1H462.4M664.7,2628.3H686.5M592,2636.2H613.4M477.7,2637.5H499.6M369.1,2639.7H378.3M869.5,2639.7H883.6M916.4,2639.7H930.4M768.4,2641.9H792.1M406.4,2645.4H432.6M560.5,2648.5H574M620.4,2648.5H642.8M506.2,2650.2H528.9M717.6,2651.5H732.1M813.1,2653.3H833.2M894.5,2653.3H914.6M666.4,2660.3H688.3M868.2,2677.4H881.8"/>
<use href="#sensor" transform="translate(649.3,2534.8) rotate(180)"/>
<use href="#thr2" transform="translate(649.3,2534.8) rotate(180)"/>
<circle cx="568.8" cy="2317.3" r="10.8" fill="#fff"/><g clip-path="url(#c15)"><path class="h" d="M548,2323L574.5,2296.5M553,2328L579.5,2301.5M558,2333L584.5,2306.5M563,2338L589.5,2311.5"/></g><circle class="l" cx="568.8" cy="2317.3" r="10.8"/><circle cx="729.8" cy="2317.3" r="10.8" fill="#fff"/><g clip-path="url(#c16)"><path class="h" d="M709,2323L735.5,2296.5M714,2328L740.5,2301.5M719,2333L745.5,2306.5M724,2338L750.5,2311.5"/></g><circle class="l" cx="729.8" cy="2317.3" r="10.8"/>
<path class="bl" d="M608,2495.3H690.6"/>
</g>
<g id="view-slope">
<g clip-path="url(#c17)"><path class="h" d="M1591.4,2362L1591.4,2208M1598.4,2362L1598.4,2208M1605.5,2362L1605.5,2208M1612.6,2362L1612.6,2208M1619.6,2362L1619.6,2208M1626.7,2362L1626.7,2208M1633.8,2362L1633.8,2208M1640.8,2362L1640.8,2208M1647.9,2362L1647.9,2208M1655,2362L1655,2208M1662.1,2362L1662.1,2208M1669.1,2362L1669.1,2208M1676.2,2362L1676.2,2208M1683.3,2362L1683.3,2208M1690.3,2362L1690.3,2208M1697.4,2362L1697.4,2208M1704.5,2362L1704.5,2208M1711.6,2362L1711.6,2208M1718.6,2362L1718.6,2208M1725.7,2362L1725.7,2208M1732.8,2362L1732.8,2208M1739.8,2362L1739.8,2208M1746.9,2362L1746.9,2208M1754,2362L1754,2208M1761.1,2362L1761.1,2208M1768.1,2362L1768.1,2208M1775.2,2362L1775.2,2208M1782.3,2362L1782.3,2208M1789.3,2362L1789.3,2208M1796.4,2362L1796.4,2208M1803.5,2362L1803.5,2208M1810.6,2362L1810.6,2208M1817.6,2362L1817.6,2208M1824.7,2362L1824.7,2208M1831.8,2362L1831.8,2208M1838.8,2362L1838.8,2208M1845.9,2362L1845.9,2208M1853,2362L1853,2208M1860.1,2362L1860.1,2208M1867.1,2362L1867.1,2208M1874.2,2362L1874.2,2208M1881.3,2362L1881.3,2208M1888.3,2362L1888.3,2208M1895.4,2362L1895.4,2208M1902.5,2362L1902.5,2208M1909.5,2362L1909.5,2208M1916.6,2362L1916.6,2208M1923.7,2362L1923.7,2208M1930.8,2362L1930.8,2208M1937.8,2362L1937.8,2208M1944.9,2362L1944.9,2208M1952,2362L1952,2208M1959,2362L1959,2208M1966.1,2362L1966.1,2208M1973.2,2362L1973.2,2208M1980.3,2362L1980.3,2208M1987.3,2362L1987.3,2208M1994.4,2362L1994.4,2208M2001.5,2362L2001.5,2208M2008.5,2362L2008.5,2208M2015.6,2362L2015.6,2208M2022.7,2362L2022.7,2208M2029.8,2362L2029.8,2208M2036.8,2362L2036.8,2208"/></g>
<g clip-path="url(#c18)"><path class="h" d="M1386.3,2607L1386.3,2338M1393.4,2607L1393.4,2338M1400.4,2607L1400.4,2338M1407.5,2607L1407.5,2338M1414.6,2607L1414.6,2338M1421.6,2607L1421.6,2338M1428.7,2607L1428.7,2338M1435.8,2607L1435.8,2338M1442.9,2607L1442.9,2338M1449.9,2607L1449.9,2338M1457,2607L1457,2338M1464.1,2607L1464.1,2338M1471.1,2607L1471.1,2338M1478.2,2607L1478.2,2338M1485.3,2607L1485.3,2338M1492.4,2607L1492.4,2338M1499.4,2607L1499.4,2338M1506.5,2607L1506.5,2338M1513.6,2607L1513.6,2338M1520.6,2607L1520.6,2338M1527.7,2607L1527.7,2338M1534.8,2607L1534.8,2338M1541.9,2607L1541.9,2338M1548.9,2607L1548.9,2338M1556,2607L1556,2338M1563.1,2607L1563.1,2338M1570.1,2607L1570.1,2338M1577.2,2607L1577.2,2338"/></g>
<path class="l sl" d="M1557.3,2249.7L1590.4,2216.7L1671.7,2298L1741,2228.7L2031.4,2228.4C2034.5,2231 2037,2234 2036.7,2237C2036.4,2241.5 2028.5,2243.5 2028.3,2247.5C2028.2,2250 2030,2252 2031.6,2253.6L1751.3,2253.7L1656.3,2348.7M1466.4,2340.6L1433.4,2373.7L1514.7,2455L1390.6,2579.1C1393.6,2583.1 1396.6,2587.1 1396.1,2591.1C1395.6,2595.1 1393.6,2599.1 1405.8,2599.2L1565.4,2439.6"/>
<path class="w" d="M1658.6,2397.8H2050.6"/>
<path class="w" d="M1664.9,2419.3H1688.2M1762.4,2422.2H1777.3M1833.3,2422.2H1855.7M2001.3,2421H2023.7M1711,2431.3H1733.8M1930,2430.5H1954M2046.9,2433H2069.3M1804.7,2444.2H1826.3M1879.8,2440.5H1894.3M1974.3,2441.7H1995.1M1608.1,2455.4H1630.9M1832.5,2456.2H1855.7M1707.2,2463.7H1730M2042.8,2466.2H2065.6M1663.3,2475.7H1686.1M1785.2,2473.2H1807.6M1756.6,2479H1770.7M1932.9,2475.7H1956.5M1999.2,2478.2H2021.6M1563.3,2484.4H1585.7M1882.3,2485.3H1896.8M1977.7,2486.5H1998M1608.9,2496.5H1631.8M1830.4,2494.4H1853.2M1705.2,2501H1728M2040.3,2503.1H2063.5M1529.3,2514.3H1551.7M1908.8,2514.3H1931.6M1604.4,2529.2H1627.6M1660.4,2529.2H1682.8M1826.3,2525.9H1849.1M1757.4,2533.4H1771.9M2006.3,2529.2H2029.5M1561.2,2540.4H1583.6M1706,2541.2H1728.8M1924.6,2541.2H1948.6M2052.3,2541.2H2075.1M1484.1,2543.7H1506.9M1529.7,2555.3H1552.5M1799.3,2555.3H1820.9M1874.4,2551.2H1888.9M1969.4,2552.4H1989.7M1603.1,2566.1H1625.9M1827.5,2567.4H1849.9M1701.8,2574.4H1724.7M2048.2,2574.4H2071.4M1525.6,2587.3H1548.4M1620.1,2587.3H1642.5M1658.3,2586H1680.7M1780.2,2584H1802.6M1750.8,2590.6H1765.7M1927.5,2586.5H1951.5M2004.2,2586H2027M1481.6,2599.3H1504.8M1576.2,2599.3H1599M1876.9,2596H1891.4M1972.3,2597.2H1992.6M1825.4,2605.1H1848.3M1699.8,2611.3H1722.6M2046.5,2611.3H2069.3M1439.3,2619.2H1461.7M1523.9,2625.4H1546.7M1618.1,2625.4H1640.9"/>
<use class="sl" href="#sensor" transform="translate(1658.6,2441.9) rotate(135)"/>
<use class="sl" href="#thr2" transform="translate(1658.6,2441.9) rotate(135)"/>
<circle cx="1561.1" cy="2230.8" r="10.8" fill="#fff"/><g clip-path="url(#c19)"><path class="h" d="M1550.5,2244.6L1550.5,2217M1557.6,2244.6L1557.6,2217M1564.7,2244.6L1564.7,2217M1571.7,2244.6L1571.7,2217"/></g><circle class="l" cx="1561.1" cy="2230.8" r="10.8"/>
<circle cx="1447.5" cy="2344.4" r="10.8" fill="#fff"/><g clip-path="url(#c20)"><path class="h" d="M1437,2358.2L1437,2330.6M1444,2358.2L1444,2330.6M1451.1,2358.2L1451.1,2330.6M1458.2,2358.2L1458.2,2330.6"/></g><circle class="l" cx="1447.5" cy="2344.4" r="10.8"/>
<path class="bl" d="M1612.6,2397.9H1658"/>
</g>
<g id="labels" style="will-change:transform">
<text class="d" transform="translate(360.4,332) rotate(-90) scale(0.86,1)" font-size="29.5" text-anchor="start">2</text><text class="d" transform="translate(277.5,497.2) scale(0.88,1)" font-size="29.5" text-anchor="start">16</text><text class="d" transform="translate(704.5,475.6) scale(0.76,1)" font-size="29.5" text-anchor="start">10</text><text class="d" transform="translate(688,334) scale(0.98,1)" font-size="26" text-anchor="start">&#248;2.5</text>
<text class="c" x="761.5" y="105.4" font-size="39.3" letter-spacing="1.2">此面為液位感應面</text><text class="s2" transform="translate(1086.7,107.5) scale(1.17,1)" font-size="50">/</text>
<text class="e" transform="translate(761.4,152.7) scale(.8333,1)" font-size="40.5">Liquid level sensing surface</text>
<text class="c" x="908.8" y="964.8" font-size="39.3" letter-spacing="1.2">藍色線為液位感應線</text><text class="s2" transform="translate(1274.6,966.9) scale(1.17,1)" font-size="50">/</text>
<text class="e" transform="translate(908.2,1010.8) scale(.8333,1)" font-size="40.5">The blue line is the liquid</text>
<text class="e" transform="translate(908.2,1057.5) scale(.8333,1)" font-size="40.5">level sensing line</text>
<text class="c" x="205.8" y="1557.1" font-size="39.3" letter-spacing="1.2">下置安裝</text><text class="s2" transform="translate(368.6,1559.2) scale(1.17,1)" font-size="50">/</text>
<text class="e" transform="translate(205.2,1603.1) scale(.8333,1)" font-size="40.5">Bottom mount</text>
<text class="c" x="1667.8" y="1058.3" font-size="39.3" letter-spacing="1.2">側面安裝</text><text class="s2" transform="translate(1830.6,1060.4) scale(1.17,1)" font-size="50">/</text>
<text class="e" transform="translate(1667.2,1104.3) scale(.8333,1)" font-size="40.5">Side mount</text>
<text class="c" x="289.1" y="2255.7" font-size="39.3" letter-spacing="1.2">上置安裝</text><text class="s2" transform="translate(451.9,2257.8) scale(1.17,1)" font-size="50">/</text>
<text class="e" transform="translate(288.5,2301.7) scale(.8333,1)" font-size="40.5">Above mount</text>
<text class="c" x="1583.7" y="2062.8" font-size="39.3" letter-spacing="1.2">斜置安裝</text><text class="s2" transform="translate(1746.5,2064.9) scale(1.17,1)" font-size="50">/</text>
<text class="e" transform="translate(1583.1,2108.8) scale(.8333,1)" font-size="40.5">Slope mount</text>
<text class="c" x="1424.1" y="609" font-size="39.3" letter-spacing="1.2">產品安裝標記點：</text>
<text class="c" x="1547.3" y="660.8" font-size="39.3" letter-spacing="1.2">紅色標記點為高精度液位需求用戶，</text>
<text class="c" x="1547.3" y="712.6" font-size="39.3" letter-spacing="1.2">需備註添加紅色標記點；</text>
<text class="c" x="1547.3" y="764.4" font-size="39.3" letter-spacing="1.2">如左圖顯示，當液位水平面淹沒兩紅</text>
<text class="c" x="1547.3" y="816.2" font-size="39.3" letter-spacing="1.2">色標記點即感應有液體；</text>
<text class="re" transform="translate(32.2,563.6) scale(.8333,1)" font-size="32.2">O</text><text class="rt" x="48.7" y="563.9" font-size="31" letter-spacing="1.2">型圈的尺寸：</text>
<text class="rt" x="32.6" y="605" font-size="31" letter-spacing="1.2">内径</text><text class="re" transform="translate(93.8,613.2) scale(.8333,1)" font-size="46.7">*</text><text class="rt" x="113.1" y="605" font-size="31" letter-spacing="1.2">线径：</text>
<text class="rn" x="41 57.1" y="643.8" text-anchor="middle" font-size="31.6">10</text><text class="re" transform="translate(61.6,652.3) scale(.8333,1)" font-size="46.7">*</text><text class="rn" x="89.4 105.5 121.6" y="643.8" text-anchor="middle" font-size="31.6">2.5</text><text class="re" transform="translate(128.8,643.8) scale(.8333,1)" font-size="32.2">mm</text>
<text class="rt" x="32.6" y="724.2" font-size="31" letter-spacing="1.2">推荐结构</text>
<text class="re" transform="translate(32.2,765) scale(.8333,1)" font-size="32.2">O</text><text class="rt" x="48.7" y="765.3" font-size="31" letter-spacing="1.2">型圈限位槽尺寸：</text>
<text class="rt" x="32.6" y="806.4" font-size="31" letter-spacing="1.2">最大直径</text><text class="re" transform="translate(158.2,814.6) scale(.8333,1)" font-size="46.7">*</text><text class="rt" x="177.5" y="806.4" font-size="31" letter-spacing="1.2">槽深：</text>
<text class="rn" x="41 57.1" y="844.2" text-anchor="middle" font-size="31.6">16</text><text class="re" transform="translate(61.6,852.7) scale(.8333,1)" font-size="46.7">*</text><text class="rn" x="89.4" y="844.2" text-anchor="middle" font-size="31.6">2</text><text class="re" transform="translate(96.6,844.2) scale(.8333,1)" font-size="32.2">mm</text>
</g>
</svg></body></html>
